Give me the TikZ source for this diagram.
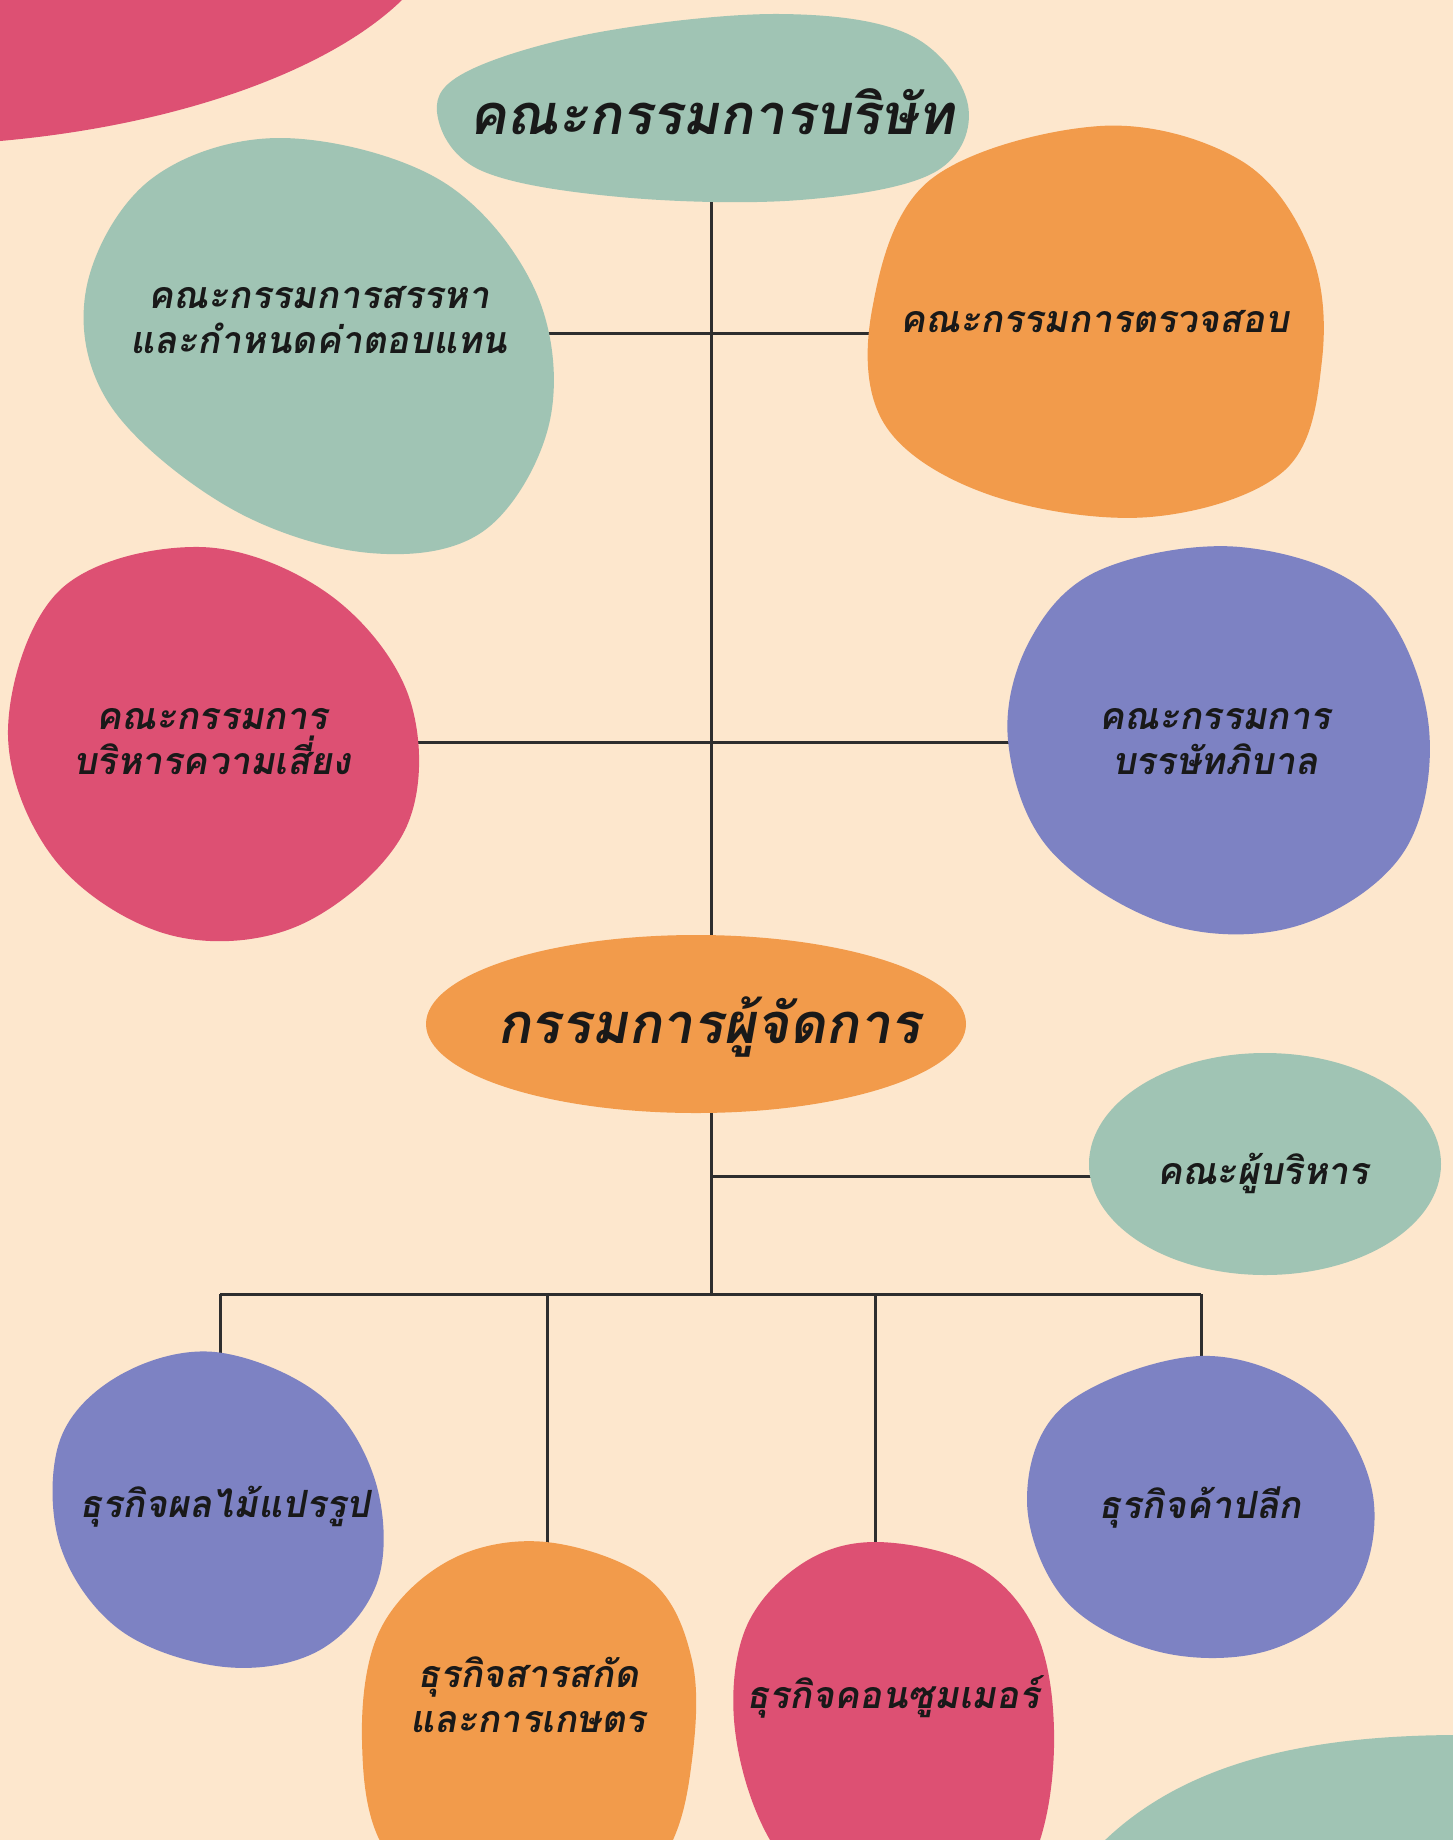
\documentclass[tikz,border=0pt]{standalone}
\usepackage{fontspec}
\newfontfamily\thaifont[Script=Thai,FakeSlant=0.18]{Loma}
\definecolor{bgc}{HTML}{FDE7CD}
\definecolor{gr}{HTML}{A0C4B4}
\definecolor{orc}{HTML}{F29B4B}
\definecolor{pkc}{HTML}{DD5073}
\definecolor{puc}{HTML}{7D82C3}
\definecolor{lnc}{HTML}{2E2E2E}
\tikzset{
  conn/.style={draw=lnc,line width=3pt},
  blob/.style={smooth cycle,tension=0.6},
  lbl/.style={font=\thaifont\bfseries\fontsize{37.5}{45}\selectfont,text=black!90,align=center,inner sep=0pt},
  ttl/.style={font=\thaifont\bfseries\fontsize{56}{64}\selectfont,text=black!90,align=center,inner sep=0pt}
}
\begin{document}
\begin{tikzpicture}[x=1pt,y=-1pt]
\useasboundingbox (0,0) rectangle (1453,1840);
\fill[bgc] (0,0) rectangle (1453,1840);
\clip (0,0) rectangle (1453,1840);
% anchors
\coordinate (boardC) at (711,110);
\coordinate (nomC) at (320,345);
\coordinate (auditC) at (1095,320);
\coordinate (riskC) at (212,742);
\coordinate (cgC) at (1218,742);
\coordinate (mdC) at (711,1024);
\coordinate (execC) at (1265,1164);
\coordinate (fruitC) at (220,1505);
\coordinate (extractC) at (547,1700);
\coordinate (consumerC) at (875,1700);
\coordinate (retailC) at (1201,1505);
\coordinate (j1) at (711,333);
\coordinate (j2) at (711,742);
\coordinate (j3) at (711,1176);
\coordinate (bus) at (711,1294);
% connectors (behind blobs)
\draw[conn] (boardC) -- (mdC);
\draw[conn] (nomC |- j1) -- (auditC |- j1);
\draw[conn] (riskC |- j2) -- (cgC |- j2);
\draw[conn] (mdC) -- (bus);
\draw[conn] (j3) -- (execC |- j3);
\draw[conn] (fruitC |- bus) -- (retailC |- bus);
\draw[conn] (fruitC |- bus) -- (fruitC);
\draw[conn] (extractC |- bus) -- (extractC);
\draw[conn] (consumerC |- bus) -- (consumerC);
\draw[conn] (retailC |- bus) -- (retailC);
% decorative corners
\fill[pkc] (0,0) -- (402,0) .. controls (330,70) and (180,125) .. (0,141) -- cycle;
\fill[gr] (1100,1845) .. controls (1180,1765) and (1300,1735) .. (1460,1735) -- (1460,1845) -- cycle;
% blobs
\fill[gr] plot[blob] coordinates {(437,112) (480,170) (620,197) (800,200) (935,172) (968,105) (910,35) (780,14) (600,32) (470,70)};
\fill[gr] plot[blob] coordinates {(280,138) (440,180) (535,290) (550,420) (485,530) (370,553) (230,508) (110,405) (86,290) (150,180)};
\fill[orc] plot[blob] coordinates {(1100,126) (1240,160) (1310,250) (1322,360) (1285,470) (1150,517) (990,495) (885,425) (872,310) (930,180)};
\fill[pkc] plot[blob] coordinates {(60,590) (200,547) (330,595) (410,700) (405,830) (300,925) (170,935) (55,860) (8,730)};
\fill[puc] plot[blob] coordinates {(1100,570) (1240,547) (1370,595) (1428,720) (1405,850) (1300,925) (1170,925) (1050,850) (1008,740) (1030,640)};
\fill[orc] (696,1024) ellipse[x radius=270,y radius=89];
\fill[gr] (1265,1164) ellipse[x radius=176,y radius=111];
\fill[puc] plot[blob] coordinates {(215,1352) (320,1395) (375,1480) (378,1580) (320,1650) (225,1667) (120,1630) (60,1545) (60,1440) (120,1375)};
\fill[orc] plot[blob] coordinates {(546,1542) (650,1580) (692,1660) (692,1760) (668,1850) (600,1930) (480,1930) (385,1850) (362,1740) (380,1630) (450,1560)};
\fill[pkc] plot[blob] coordinates {(875,1542) (975,1565) (1035,1630) (1054,1730) (1040,1840) (990,1930) (850,1930) (770,1840) (735,1730) (745,1630) (800,1565)};
\fill[puc] plot[blob] coordinates {(1200,1356) (1315,1395) (1372,1490) (1355,1590) (1270,1650) (1160,1652) (1065,1600) (1027,1500) (1065,1405)};
% labels
\node[ttl] (board) at (712,112) {คณะกรรมการบริษัท};
\node[lbl] (nom) at (319,320) {คณะกรรมการสรรหา\\และกำหนดค่าตอบแทน};
\node[lbl] (audit) at (1095,322) {คณะกรรมการตรวจสอบ};
\node[lbl] (risk) at (212,742) {คณะกรรมการ\\บริหารความเสี่ยง};
\node[lbl] (cg) at (1215,742) {คณะกรรมการ\\บรรษัทภิบาล};
\node[ttl] (md) at (709,1027) {กรรมการผู้จัดการ};
\node[lbl] (exec) at (1263,1173) {คณะผู้บริหาร};
\node[lbl] (fruit) at (225,1507) {ธุรกิจผลไม้แปรรูป};
\node[lbl] (extract) at (528,1695) {ธุรกิจสารสกัด\\และการเกษตร};
\node[lbl] (consumer) at (893,1697) {ธุรกิจคอนซูมเมอร์};
\node[lbl] (retail) at (1200,1507) {ธุรกิจค้าปลีก};
\end{tikzpicture}
\end{document}
